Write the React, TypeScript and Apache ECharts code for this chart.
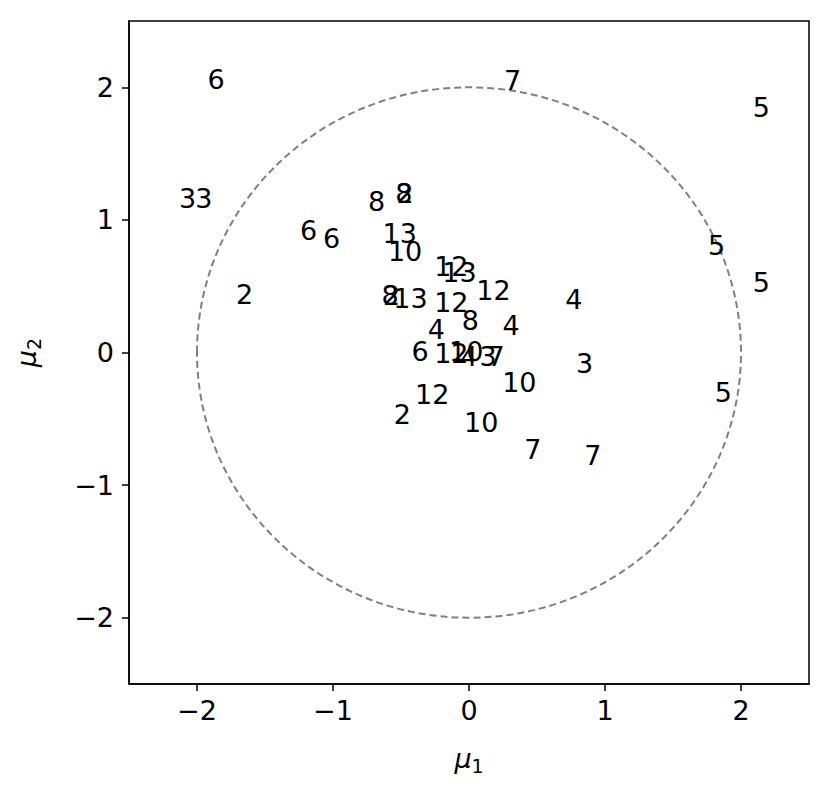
import React, { useEffect, useRef } from "react";
import * as echarts from "echarts";

const labels = ["6","7","5","3","3","8","8","2","6","6","13","10","5","5","12","13","2","12","8","2","13","12","4","8","4","4","6","12","10","4","3","7","3","10","5","12","2","10","7","7"];
const xs = [-1.86,0.32,2.15,-2.07,-1.95,-0.68,-0.48,-0.47,-1.18,-1.01,-0.51,-0.47,1.82,2.15,-0.13,-0.07,-1.65,0.18,-0.58,-0.57,-0.43,-0.13,0.77,0.01,-0.24,0.31,-0.36,-0.13,-0.02,0.0,0.14,0.2,0.85,0.37,1.87,-0.27,-0.49,0.09,0.47,0.91];
const ys = [2.06,2.05,1.85,1.16,1.16,1.14,1.2,1.2,0.92,0.86,0.9,0.76,0.81,0.53,0.65,0.6,0.44,0.47,0.43,0.43,0.41,0.38,0.4,0.24,0.17,0.2,0.01,-0.01,0.01,-0.03,-0.03,-0.03,-0.08,-0.23,-0.3,-0.32,-0.47,-0.53,-0.73,-0.78];
const radius = 2;
const ticks = [-2, -1, 0, 1, 2];

const fmt = (v: number) => String(v).replace("-", "\u2212");

export default function App() {
  const ref = useRef<HTMLDivElement>(null);
  useEffect(() => {
    const chart = echarts.init(ref.current!, null, { renderer: "svg" });
    const font = "DejaVu Sans";
    const axisLine = { show: true, onZero: false, lineStyle: { color: "#000", width: 1.5 } };
    const tick = { show: true, customValues: ticks, length: 7, inside: false, lineStyle: { color: "#000", width: 1.5 } };
    chart.setOption({
      animation: false,
      grid: { left: 129, right: 21, top: 21, bottom: 114, show: true, borderColor: "#000", borderWidth: 1.5 },
      xAxis: {
        type: "value", min: -2.5, max: 2.5,
        name: "{i|μ}{s|1}", nameLocation: "middle", nameGap: 58,
        nameTextStyle: { rich: { i: { fontFamily: font, fontSize: 27, fontStyle: "italic", color: "#000" }, s: { fontFamily: font, fontSize: 19, color: "#000", padding: [14, 0, 0, 0] } } },
        axisLine,
        splitLine: { show: false },
        axisTick: tick,
        axisLabel: { customValues: ticks, formatter: fmt, fontFamily: font, fontSize: 27, color: "#000", margin: 13 },
      },
      yAxis: {
        type: "value", min: -2.5, max: 2.5,
        name: "{i|μ}{s|2}", nameLocation: "middle", nameGap: 86, nameRotate: 90,
        nameTextStyle: { rich: { i: { fontFamily: font, fontSize: 27, fontStyle: "italic", color: "#000" }, s: { fontFamily: font, fontSize: 19, color: "#000", padding: [14, 0, 0, 0] } } },
        axisLine,
        splitLine: { show: false },
        axisTick: tick,
        axisLabel: { customValues: ticks, formatter: fmt, fontFamily: font, fontSize: 27, color: "#000", margin: 15 },
      },
      series: [
        {
          type: "custom",
          data: [[0, 0, radius]],
          renderItem: (params: any, api: any) => {
            const c = api.coord([api.value(0), api.value(1)]);
            const s = api.size([api.value(2), api.value(2)]);
            return {
              type: "ellipse",
              shape: { cx: c[0], cy: c[1], rx: s[0], ry: s[1] },
              style: { fill: "none", stroke: "#808080", lineWidth: 2, lineDash: [7, 4] },
            };
          },
          silent: true,
          z: 1,
        },
        {
          type: "scatter",
          symbolSize: 0,
          itemStyle: { opacity: 1, color: "#000" },
          data: xs.map((x, i) => ({ value: [x, ys[i]], name: labels[i] })),
          label: {
            show: true, position: "inside", formatter: (p: any) => p.name,
            fontFamily: font, fontSize: 27, color: "#000", opacity: 1, textBorderWidth: 0,
          },
          z: 2,
        },
      ],
    });
    return () => chart.dispose();
  }, []);
  return <div ref={ref} style={{ width: 830, height: 798, position: "absolute", left: 0, top: 0, background: "#fff" }} />;
}
